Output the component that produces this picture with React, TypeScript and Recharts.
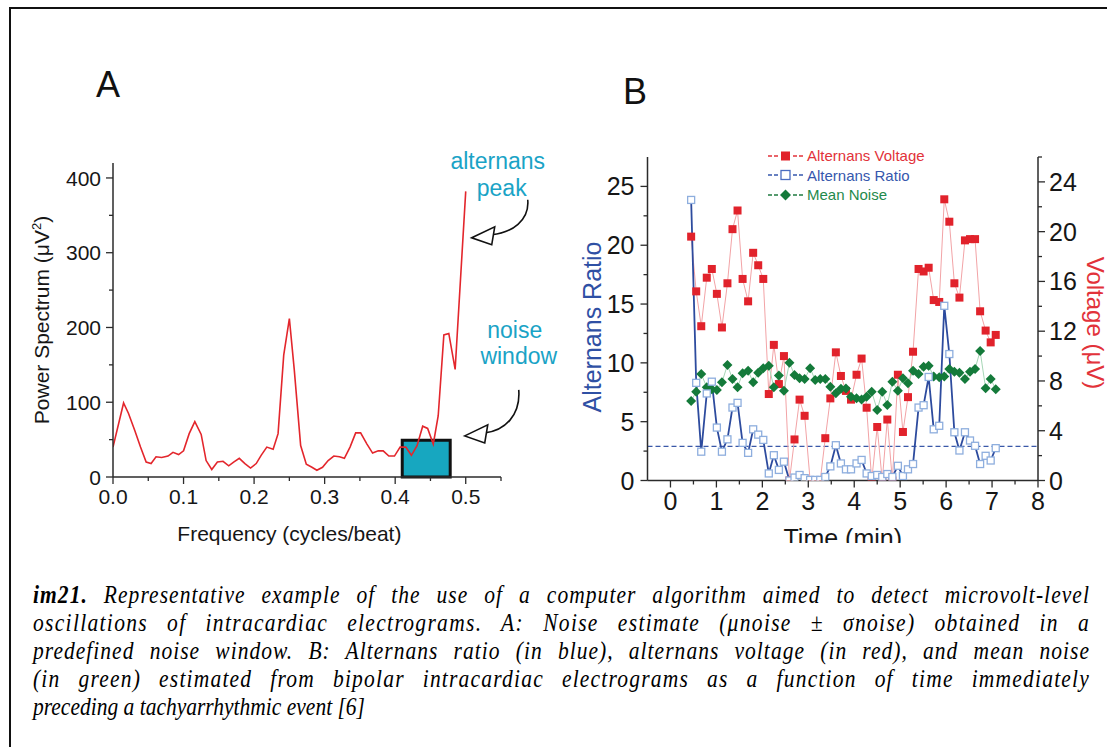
import React from 'react';
import { LineChart, Line, XAxis, YAxis, ReferenceArea, ReferenceDot, ReferenceLine, Legend, Label } from 'recharts';

// ---------- Panel A data ----------
const freqA = [0, 0.015, 0.022, 0.031, 0.039, 0.047, 0.054, 0.061, 0.069, 0.078, 0.085, 0.093, 0.1, 0.108, 0.116, 0.125, 0.132, 0.14, 0.148, 0.156, 0.164, 0.171, 0.179, 0.187, 0.195, 0.203, 0.21, 0.218, 0.227, 0.234, 0.242, 0.25, 0.257, 0.266, 0.274, 0.282, 0.289, 0.297, 0.305, 0.313, 0.321, 0.328, 0.336, 0.344, 0.351, 0.36, 0.368, 0.376, 0.383, 0.391, 0.399, 0.407, 0.415, 0.423, 0.431, 0.439, 0.446, 0.454, 0.461, 0.469, 0.476, 0.485, 0.5];
const powerA = [40, 99, 85, 62, 40, 20, 18, 27, 26, 28, 33, 30, 35, 58, 74, 57, 22, 10, 20, 21, 15, 20, 25, 18, 12, 18, 29, 40, 37, 58, 163, 212, 143, 42, 17, 13, 9, 13, 22, 28, 27, 25, 40, 59, 59, 44, 32, 35, 35, 28, 28, 40, 40, 29, 42, 68, 65, 44, 82, 190, 192, 144, 382];
const freqTicksA = [0, 0.05, 0.1, 0.15, 0.2, 0.25, 0.3, 0.35, 0.4, 0.45, 0.5, 0.55];
const powerTicksA = [0, 50, 100, 150, 200, 250, 300, 350, 400];
const noiseWindowFrom = 0.41;
const noiseWindowTo = 0.478;
const noiseWindowLevel = 49;
const peakArrowAt = { f: 0.5085, p: 320 };
const noiseArrowAt = { f: 0.4986, p: 55 };

// ---------- Panel B data ----------
const timeB = [0.45, 0.56, 0.67, 0.79, 0.90, 1.01, 1.12, 1.24, 1.35, 1.46, 1.57, 1.69, 1.80, 1.91, 2.02, 2.14, 2.25, 2.36, 2.47, 2.59, 2.70, 2.81, 2.92, 3.04, 3.15, 3.26, 3.37, 3.48, 3.60, 3.71, 3.82, 3.93, 4.05, 4.16, 4.27, 4.38, 4.50, 4.61, 4.72, 4.83, 4.95, 5.06, 5.17, 5.28, 5.40, 5.51, 5.62, 5.73, 5.85, 5.96, 6.07, 6.18, 6.29, 6.41, 6.52, 6.63, 6.74, 6.86, 6.97, 7.08];
const ratioB = [23.85, 8.3, 2.45, 7.4, 8.4, 4.5, 2.45, 3.5, 6.2, 6.6, 3.2, 2.35, 4.35, 3.9, 3.45, 0.6, 2.15, 0.9, 1.6, 0, 0.25, 0.47, 0.2, 0.05, 0.05, 0.05, 0.3, 1.2, 3.0, 1.45, 0.95, 0.95, 1.45, 1.75, 0.6, 0.38, 0.47, 0.3, 0.55, 0.3, 1.25, 0.38, 0.95, 1.4, 6.2, 6.4, 8.8, 4.35, 4.65, 14.85, 10.75, 4.1, 2.55, 4.1, 3.4, 2.95, 1.4, 2.1, 1.7, 2.75];
const voltageB = [19.6, 15.2, 12.4, 16.3, 17.0, 15.0, 12.3, 15.85, 20.2, 21.7, 16.2, 14.4, 18.3, 17.3, 16.2, 6.95, 10.9, 7.75, 10.0, 0, 3.3, 6.5, 5.2, 0, 0, 0, 3.4, 6.6, 10.3, 8.4, 7.2, 6.5, 8.5, 9.8, 5.85, 0, 4.3, 0, 4.9, 0, 8.5, 3.9, 6.7, 10.35, 17.0, 16.8, 17.1, 14.5, 14.35, 22.6, 20.8, 15.85, 14.7, 19.3, 19.4, 19.4, 13.6, 12.05, 11.1, 11.7];
const noiseB = [6.39, 7.14, 8.56, 7.49, 7.33, 7.27, 7.89, 9.28, 8.16, 7.49, 8.61, 8.83, 7.89, 8.67, 9.02, 9.23, 7.49, 8.43, 7.22, 9.47, 8.48, 8.21, 8.16, 9.02, 8.08, 8.16, 8.16, 7.54, 7.01, 7.37, 7.4, 6.74, 6.61, 6.52, 6.74, 7.14, 5.67, 7.14, 6.07, 7.94, 7.22, 8.21, 7.81, 8.83, 8.56, 9.15, 9.23, 8.35, 8.29, 8.35, 8.96, 8.75, 8.67, 8.16, 8.75, 8.96, 10.41, 7.41, 8.16, 7.33];
const timeTicksB = [0, 0.5, 1, 1.5, 2, 2.5, 3, 3.5, 4, 4.5, 5, 5.5, 6, 6.5, 7, 7.5, 8];
const ratioTicksB = [0, 2.5, 5, 7.5, 10, 12.5, 15, 17.5, 20, 22.5, 25];
const voltTicksB = [0, 2, 4, 6, 8, 10, 12, 14, 16, 18, 20, 22, 24, 26];
const ratioThreshold = 2.9;
const legendLabels = ['Alternans Voltage', 'Alternans Ratio', 'Mean Noise'];

const captionLead = 'im21. ';
const captionLines = [
  'Representative example of the use of a computer algorithm aimed to detect microvolt-level',
  'oscillations of intracardiac electrograms. A: Noise estimate (\u03bcnoise \u00b1 \u03c3noise) obtained in a',
  'predefined noise window. B: Alternans ratio (in blue), alternans voltage (in red), and mean noise',
  '(in green) estimated from bipolar intracardiac electrograms as a function of time immediately',
  'preceding a tachyarrhythmic event [6]',
];

// ---------- styles ----------
const FONT = '"Liberation Sans", Arial, Helvetica, sans-serif';
const SERIF = '"Liberation Serif", "Times New Roman", serif';
const AXIS = '#2b2b2b';
const TEAL = '#1aa3c6';
const BOX = '#17a7c0';
const RED_A = '#e3262c';
const V_RED = '#e1222b';
const V_LINE = '#f2a3a6';
const R_BLUE = '#2d4b9e';
const R_MARK = '#8eaede';
const N_GREEN = '#147a3a';
const N_LINE = '#a6d6b6';
const MU = '\u03bc';

const dataA = freqA.map((f, i) => ({ f, p: powerA[i] }));
const dataB = timeB.map((t, i) => ({ t, ratio: ratioB[i], voltage: voltageB[i], noise: noiseB[i] }));

type TickOpts = {
  side: 'left' | 'right' | 'bottom';
  step: number;
  decimals: number;
  majorLen: number;
  minorLen: number;
  gap: number;
  fontSize: number;
};

function makeTick(o: TickOpts) {
  return (props: any) => {
    const { x, y, payload } = props;
    const v = payload.value as number;
    const r = v / o.step;
    const isMajor = Math.abs(r - Math.round(r)) < 1e-6;
    const len = isMajor ? o.majorLen : o.minorLen;
    const label = v.toFixed(o.decimals);
    const txt = { fontSize: o.fontSize, fontFamily: FONT, fill: '#161616' };
    if (o.side === 'bottom') {
      return (
        <g>
          <line x1={x} y1={y} x2={x} y2={y + len} stroke={AXIS} strokeWidth={1.3} />
          {isMajor && (
            <text x={x} y={y + o.gap} textAnchor="middle" {...txt}>{label}</text>
          )}
        </g>
      );
    }
    if (o.side === 'left') {
      return (
        <g>
          <line x1={x} y1={y} x2={x - len} y2={y} stroke={AXIS} strokeWidth={1.3} />
          {isMajor && (
            <text x={x - o.gap} y={y} dy="0.36em" textAnchor="end" {...txt}>{label}</text>
          )}
        </g>
      );
    }
    return (
      <g>
        <line x1={x} y1={y} x2={x + len} y2={y} stroke={AXIS} strokeWidth={1.3} />
        {isMajor && (
          <text x={x + o.gap} y={y} dy="0.36em" textAnchor="start" {...txt}>{label}</text>
        )}
      </g>
    );
  };
}

function arrowShape(line1: string, line2: string, t1: [number, number], t2: [number, number], tail: [number, number]) {
  return (props: any) => {
    const { cx, cy } = props;
    if (cx == null || cy == null) return <g />;
    const [tx, ty] = tail;
    return (
      <g>
        <path
          d={`M ${cx + tx} ${cy + ty} C ${cx + tx + 2} ${cy + ty * 0.45}, ${cx + 40} ${cy - 5}, ${cx + 20} ${cy - 3}`}
          fill="none"
          stroke="#111"
          strokeWidth={1.6}
        />
        <polygon
          points={`${cx},${cy} ${cx + 23},${cy - 11} ${cx + 20},${cy + 7}`}
          fill="#fff"
          stroke="#111"
          strokeWidth={1.6}
          strokeLinejoin="miter"
        />
        <text x={cx + t1[0]} y={cy + t1[1]} textAnchor="middle" fontFamily={FONT} fontSize={23} fill={TEAL}>{line1}</text>
        <text x={cx + t2[0]} y={cy + t2[1]} textAnchor="middle" fontFamily={FONT} fontSize={23} fill={TEAL}>{line2}</text>
      </g>
    );
  };
}

const squareDot = (fill: string, stroke: string, size: number, sw: number) => (props: any) => {
  const { cx, cy, index } = props;
  if (cx == null || cy == null) return <g key={index} />;
  return <rect key={index} x={cx - size / 2} y={cy - size / 2} width={size} height={size} fill={fill} stroke={stroke} strokeWidth={sw} />;
};

const diamondDot = (fill: string, size: number) => (props: any) => {
  const { cx, cy, index } = props;
  if (cx == null || cy == null) return <g key={index} />;
  const h = size / 2;
  return <polygon key={index} points={`${cx},${cy - h} ${cx + h},${cy} ${cx},${cy + h} ${cx - h},${cy}`} fill={fill} />;
};

const legendStyles = [
  { color: '#e2323a', marker: 'fsq', dash: '#e2323a' },
  { color: '#3657ad', marker: 'osq', dash: '#3657ad' },
  { color: '#1f8a4c', marker: 'dia', dash: '#1f7a3f' },
];

const renderLegend = () => (
  <div style={{ fontFamily: FONT, fontSize: 15, lineHeight: '19.5px' }}>
    {legendLabels.map((lab, i) => {
      const s = legendStyles[i];
      return (
        <div key={lab} style={{ display: 'flex', alignItems: 'center', height: 19.5, color: s.color, whiteSpace: 'nowrap' }}>
          <svg width={38} height={14} style={{ display: 'block' }}>
            <line x1={1} y1={7} x2={5} y2={7} stroke={s.dash} strokeWidth={1.5} />
            <line x1={7} y1={7} x2={11} y2={7} stroke={s.dash} strokeWidth={1.5} />
            <line x1={26} y1={7} x2={30} y2={7} stroke={s.dash} strokeWidth={1.5} />
            <line x1={32} y1={7} x2={36} y2={7} stroke={s.dash} strokeWidth={1.5} />
            {s.marker === 'fsq' && <rect x={14} y={2.5} width={9} height={9} fill={V_RED} />}
            {s.marker === 'osq' && <rect x={14} y={2.5} width={9} height={9} fill="#fff" stroke="#4a6cc0" strokeWidth={1.3} />}
            {s.marker === 'dia' && <polygon points="18.5,1.5 24,7 18.5,12.5 13,7" fill={N_GREEN} />}
          </svg>
          <span style={{ marginLeft: 2 }}>{lab}</span>
        </div>
      );
    })}
  </div>
);

const PowerLabel = (props: any) => {
  const vb = props.viewBox || {};
  const cx = vb.x - 4;
  const cy = vb.y + vb.height / 2;
  return (
    <text transform={`translate(${cx},${cy}) rotate(-90)`} textAnchor="middle" fontFamily={FONT} fontSize={21} fill="#161616">
      {`Power Spectrum (${MU}V`}
      <tspan dy={-8} fontSize={13}>2</tspan>
      <tspan dy={8}>)</tspan>
    </text>
  );
};

const FreqLabel = (props: any) => {
  const vb = props.viewBox || {};
  return (
    <text x={vb.x + (vb.width * 0.5) / 0.55 / 2} y={vb.y + 64} textAnchor="middle" fontFamily={FONT} fontSize={21} fill="#161616">
      Frequency (cycles/beat)
    </text>
  );
};

const RatioLabel = (props: any) => {
  const vb = props.viewBox || {};
  const cx = vb.x + 13;
  const cy = vb.y + 170;
  return (
    <text transform={`translate(${cx},${cy}) rotate(-90)`} textAnchor="middle" fontFamily={FONT} fontSize={25} fill="#2f50a4">
      Alternans Ratio
    </text>
  );
};

const VoltLabel = (props: any) => {
  const vb = props.viewBox || {};
  const cx = vb.x + 49;
  const cy = vb.y + 166;
  return (
    <text transform={`translate(${cx},${cy}) rotate(90)`} textAnchor="middle" fontFamily={FONT} fontSize={24} fill="#e2323a">
      {`Voltage (${MU}V)`}
    </text>
  );
};

const TimeLabel = (props: any) => {
  const vb = props.viewBox || {};
  return (
    <text x={vb.x + vb.width / 2} y={vb.y + 66} textAnchor="middle" fontFamily={FONT} fontSize={25} fill="#161616">
      Time (min)
    </text>
  );
};

const CAP_SCALE = 0.86;
const CAP_SIZE = 25;
const CAP_W = 1057 / CAP_SCALE;
const CAP_LETTER_SHARE = 0.45;

let measureCtx: CanvasRenderingContext2D | null = null;
function measure(text: string, bold: boolean): number {
  if (typeof document === 'undefined') return text.length * CAP_SIZE * 0.42;
  if (!measureCtx) measureCtx = document.createElement('canvas').getContext('2d');
  if (!measureCtx) return text.length * CAP_SIZE * 0.42;
  measureCtx.font = `italic ${bold ? 'bold ' : ''}${CAP_SIZE}px "Liberation Serif"`;
  return measureCtx.measureText(text).width;
}

export default function App() {
  const spacings = captionLines.map((ln, i) => {
    if (i === captionLines.length - 1) return 0;
    const natural = measure(ln, false) + (i === 0 ? measure(captionLead, true) : 0);
    const chars = ln.length + (i === 0 ? captionLead.length : 0);
    return Math.max(0, (CAP_LETTER_SHARE * (CAP_W - natural)) / chars);
  });

  return (
    <div style={{ position: 'absolute', left: 0, top: 0, width: 1107, height: 747, overflow: 'hidden', background: '#fff' }}>
      {/* frame */}
      <div style={{ position: 'absolute', left: 9, top: 7, width: 1300, height: 900, borderLeft: '2.5px solid #111', borderTop: '2.5px solid #111' }} />

      {/* Panel letters */}
      <div style={{ position: 'absolute', left: 96, top: 64, fontFamily: FONT, fontSize: 36, color: '#111' }}>A</div>
      <div style={{ position: 'absolute', left: 623, top: 71, fontFamily: FONT, fontSize: 36, color: '#111' }}>B</div>

      {/* Panel A */}
      <div style={{ position: 'absolute', left: 0, top: 140 }}>
        <LineChart width={560} height={420} data={dataA} margin={{ top: 23, right: 59, bottom: 23, left: 53 }}>
          <XAxis
            dataKey="f"
            type="number"
            domain={[0, 0.55]}
            ticks={freqTicksA}
            interval={0}
            allowDataOverflow
            height={60}
            tickSize={0}
            tickMargin={0}
            tickLine={false}
            axisLine={{ stroke: AXIS, strokeWidth: 1.5 }}
            tick={makeTick({ side: 'bottom', step: 0.1, decimals: 1, majorLen: 7, minorLen: 4, gap: 27, fontSize: 21 })}
          >
            <Label content={<FreqLabel />} />
          </XAxis>
          <YAxis
            type="number"
            domain={[0, 420]}
            ticks={powerTicksA}
            interval={0}
            allowDataOverflow
            width={60}
            tickSize={0}
            tickMargin={0}
            tickLine={false}
            axisLine={{ stroke: AXIS, strokeWidth: 1.5 }}
            tick={makeTick({ side: 'left', step: 100, decimals: 0, majorLen: 7, minorLen: 4, gap: 12, fontSize: 21 })}
          >
            <Label content={<PowerLabel />} />
          </YAxis>
          <ReferenceArea
            x1={noiseWindowFrom}
            x2={noiseWindowTo}
            y1={0}
            y2={noiseWindowLevel}
            fill={BOX}
            fillOpacity={1}
            stroke="#111"
            strokeWidth={3}
            ifOverflow="visible"
          />
          <Line dataKey="p" type="linear" stroke={RED_A} strokeWidth={1.6} dot={false} isAnimationActive={false} />
          <ReferenceDot
            x={peakArrowAt.f}
            y={peakArrowAt.p}
            r={0}
            ifOverflow="visible"
            shape={arrowShape('alternans', 'peak', [26, -69], [30, -42], [56, -38])}
          />
          <ReferenceDot
            x={noiseArrowAt.f}
            y={noiseArrowAt.p}
            r={0}
            ifOverflow="visible"
            shape={arrowShape('noise', 'window', [50, -98], [54, -72], [54, -46])}
          />
        </LineChart>
      </div>

      {/* Panel B */}
      <div style={{ position: 'absolute', left: 560, top: 130, width: 547, height: 413, overflow: 'hidden' }}>
        <LineChart width={547} height={440} data={dataB} margin={{ top: 27, right: 9, bottom: 29.5, left: 27.5 }}>
          <XAxis
            dataKey="t"
            type="number"
            domain={[-0.5, 8]}
            ticks={timeTicksB}
            interval={0}
            allowDataOverflow
            height={60}
            tickSize={0}
            tickMargin={0}
            tickLine={false}
            axisLine={{ stroke: AXIS, strokeWidth: 1.5 }}
            tick={makeTick({ side: 'bottom', step: 1, decimals: 0, majorLen: 7, minorLen: 4, gap: 29, fontSize: 25 })}
          >
            <Label content={<TimeLabel />} />
          </XAxis>
          <YAxis
            yAxisId="left"
            orientation="left"
            type="number"
            domain={[0, 27.5]}
            ticks={ratioTicksB}
            interval={0}
            allowDataOverflow
            width={60}
            tickSize={0}
            tickMargin={0}
            tickLine={false}
            axisLine={{ stroke: AXIS, strokeWidth: 1.5 }}
            tick={makeTick({ side: 'left', step: 5, decimals: 0, majorLen: 7, minorLen: 4, gap: 13, fontSize: 25 })}
          >
            <Label content={<RatioLabel />} />
          </YAxis>
          <YAxis
            yAxisId="right"
            orientation="right"
            type="number"
            domain={[0, 26]}
            ticks={voltTicksB}
            interval={0}
            allowDataOverflow
            width={60}
            tickSize={0}
            tickMargin={0}
            tickLine={false}
            axisLine={{ stroke: AXIS, strokeWidth: 1.5 }}
            tick={makeTick({ side: 'right', step: 4, decimals: 0, majorLen: 7, minorLen: 4, gap: 11, fontSize: 25 })}
          >
            <Label content={<VoltLabel />} />
          </YAxis>
          <ReferenceLine yAxisId="left" y={ratioThreshold} stroke="#3a58a8" strokeWidth={1.3} strokeDasharray="5 3" />
          <Line
            yAxisId="right"
            dataKey="voltage"
            name="Alternans Voltage"
            type="linear"
            stroke={V_LINE}
            strokeWidth={1}
            dot={squareDot(V_RED, 'none', 8, 0)}
            isAnimationActive={false}
          />
          <Line
            yAxisId="right"
            dataKey="noise"
            name="Mean Noise"
            type="linear"
            stroke={N_LINE}
            strokeWidth={1}
            dot={diamondDot(N_GREEN, 10)}
            isAnimationActive={false}
          />
          <Line
            yAxisId="left"
            dataKey="ratio"
            name="Alternans Ratio"
            type="linear"
            stroke={R_BLUE}
            strokeWidth={1.8}
            dot={squareDot('#fff', R_MARK, 7, 1.3)}
            isAnimationActive={false}
          />
          <Legend
            layout="vertical"
            align="center"
            verticalAlign="middle"
            content={renderLegend}
            wrapperStyle={{ left: 207, top: 16, width: 220 }}
          />
        </LineChart>
      </div>

      {/* Caption */}
      <div
        style={{
          position: 'absolute',
          left: 33,
          top: 581,
          width: CAP_W,
          transform: `scaleX(${CAP_SCALE})`,
          transformOrigin: 'left top',
          fontFamily: SERIF,
          fontStyle: 'italic',
          fontSize: CAP_SIZE,
          color: '#000',
        }}
      >
        {captionLines.map((ln, i) => {
          const last = i === captionLines.length - 1;
          return (
            <div
              key={i}
              style={{
                height: 28,
                lineHeight: '28px',
                whiteSpace: 'nowrap',
                letterSpacing: `${spacings[i]}px`,
                textAlign: last ? 'left' : 'justify',
                textAlignLast: last ? 'left' : 'justify',
              } as any}
            >
              {i === 0 && <b>{captionLead}</b>}
              {ln}
            </div>
          );
        })}
      </div>
    </div>
  );
}
